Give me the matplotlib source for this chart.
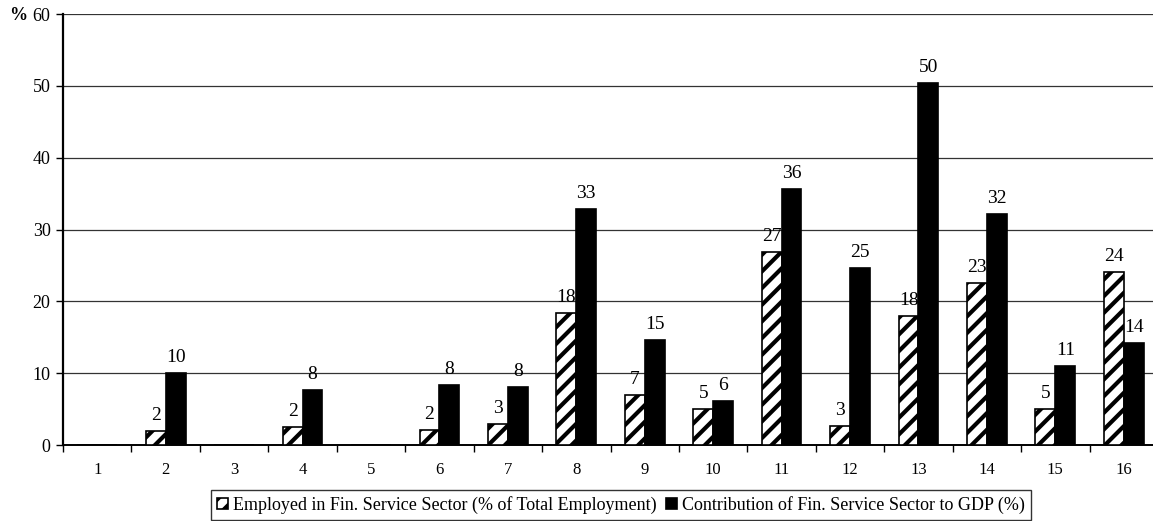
import matplotlib
matplotlib.use("Agg")
import matplotlib.pyplot as plt
import numpy as np

plt.rcParams['font.family'] = ['Liberation Serif', 'DejaVu Serif']
plt.rcParams['hatch.linewidth'] = 3.0

categories = [str(i) for i in range(1, 17)]
employed = [0, 1.95, 0, 2.45, 0, 2.05, 2.95, 18.4, 7.0, 5.0, 26.9, 2.65, 18.0, 22.6, 4.95, 24.1]
contribution = [0, 10.0, 0, 7.65, 0, 8.3, 8.05, 32.8, 14.6, 6.1, 35.7, 24.7, 50.4, 32.2, 11.05, 14.25]
legend_labels = ['Employed in Fin. Service Sector (% of Total Employment)',
                 'Contribution of Fin. Service Sector to GDP (%)']

W, H = 1153, 521
fig = plt.figure(figsize=(W / 100, H / 100), dpi=100)
ax = fig.add_axes([63 / W, 76 / H, (1158 - 63) / W, 431 / H])

x = np.arange(len(categories))
bw = 0.29
b1 = ax.bar(x - bw / 2, employed, bw, color='white', edgecolor='black',
            hatch='//', linewidth=1.2, label=legend_labels[0], zorder=3)
b2 = ax.bar(x + bw / 2, contribution, bw, color='black', edgecolor='black',
            linewidth=1.2, label=legend_labels[1], zorder=3)

# value labels above each bar (skip empty categories)
for bars, vals in ((b1, employed), (b2, contribution)):
    for rect, v in zip(bars, vals):
        if v == 0:
            continue
        ax.annotate(str(int(round(v))), (rect.get_x() + rect.get_width() / 2, v),
                    xytext=(0, 5), textcoords='offset points',
                    ha='center', va='bottom', fontsize=14, zorder=4)

ax.set_xlim(-0.5, len(categories) - 0.5)
ax.set_ylim(0, 60)
ax.set_yticks(range(0, 61, 10))
ax.set_yticklabels([str(v) for v in range(0, 61, 10)], fontsize=13)
ax.yaxis.grid(True, color='#333333', linewidth=0.9)
ax.set_axisbelow(True)

# ticks between categories, labels at centres
ax.set_xticks(np.arange(-0.5, len(categories), 1.0))
ax.set_xticklabels([])
ax.set_xticks(x, minor=True)
ax.set_xticklabels(categories, minor=True, fontsize=12)
ax.tick_params(axis='x', which='minor', length=0, pad=12)
ax.tick_params(axis='x', which='major', length=5, direction='out', width=1)
ax.tick_params(axis='y', length=5, direction='out', width=1, pad=4)

for s in ['top', 'right']:
    ax.spines[s].set_visible(False)
ax.spines['left'].set_linewidth(1.6)
ax.spines['bottom'].set_linewidth(1.4)

fig.text(9 / W, 1 - 15 / H, '%', fontsize=13, fontweight='bold', va='center', ha='left')

leg = fig.legend(handles=[b1, b2], labels=legend_labels, loc='center',
                 bbox_to_anchor=(621 / W, 1 - 505 / H), ncol=2, fontsize=13,
                 frameon=True, fancybox=False, edgecolor='black',
                 handlelength=0.6, handleheight=0.6, handletextpad=0.3,
                 columnspacing=0.5, borderpad=0.35, borderaxespad=0)
leg.get_frame().set_linewidth(1.0)

fig.savefig('out.png', dpi=100)
